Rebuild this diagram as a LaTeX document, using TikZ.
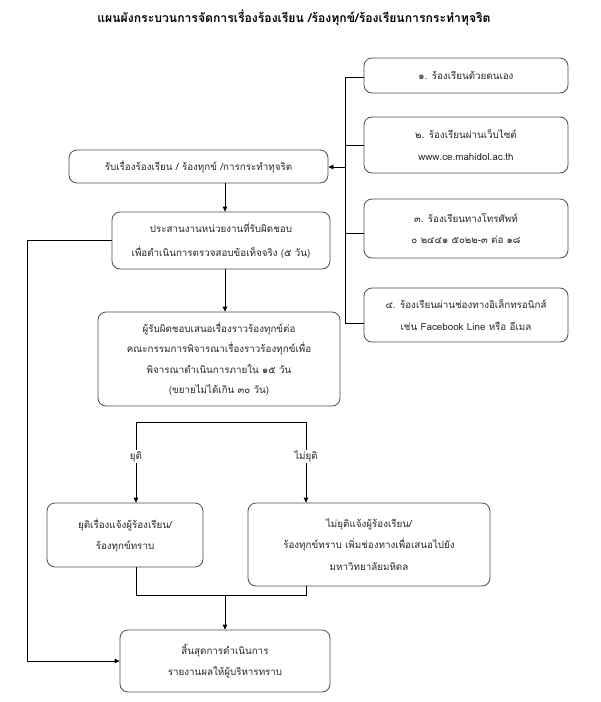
\documentclass[tikz,border=0pt]{standalone}
\usepackage{fontspec}
\usetikzlibrary{arrows.meta,calc}
\newfontfamily\thai[Script=Thai]{Loma}
\begin{document}
\begin{tikzpicture}[x=1pt,y=-1pt,
  box/.style={draw=black!70,line width=0.8pt,rounded corners=8pt,align=center,
    inner sep=0pt,text=black!85,font=\thai\fontsize{9.8}{21.5}\selectfont},
  conn/.style={draw=black,line width=0.8pt},
  arr/.style={conn,-{Triangle[length=5pt,width=4.5pt]}},
  lbl/.style={fill=white,inner sep=1pt,text=black!85,font=\thai\fontsize{9.8}{12}\selectfont}]
\useasboundingbox (0,0) rectangle (601,702);
\node[font=\thai\bfseries\fontsize{12.2}{14}\selectfont] (title) at (294,18) {แผนผังกระบวนการจัดการเรื่องร้องเรียน /ร้องทุกข์/ร้องเรียนการกระทำทุจริต};
% main column
\node[box,minimum width=259pt,minimum height=33pt] (A) at (198.5,166.5) {รับเรื่องร้องเรียน / ร้องทุกข์ /การกระทำทุจริต};
\node[box,minimum width=218pt,minimum height=57pt,font=\thai\fontsize{9.8}{24}\selectfont] (B) at (221,240.5) {ประสานงานหน่วยงานที่รับผิดชอบ\\เพื่อดำเนินการตรวจสอบข้อเท็จจริง (๕ วัน)};
\node[box,minimum width=242pt,minimum height=94pt,font=\thai\fontsize{9.8}{20.5}\selectfont] (C) at (219,359) {ผู้รับผิดชอบเสนอเรื่องราวร้องทุกข์ต่อ\\คณะกรรมการพิจารณาเรื่องราวร้องทุกข์เพื่อ\\พิจารณาดำเนินการภายใน ๑๕ วัน\\(ขยายไม่ได้เกิน ๓๐ วัน)};
\node[box,minimum width=156pt,minimum height=64pt] (D) at (125,535) {ยุติเรื่องแจ้งผู้ร้องเรียน/\\ร้องทุกข์ทราบ};
\node[box,minimum width=242pt,minimum height=83pt] (E) at (369,544.5) {ไม่ยุติแจ้งผู้ร้องเรียน/\\ร้องทุกข์ทราบ เพิ่มช่องทางเพื่อเสนอไปยัง\\มหาวิทยาลัยมหิดล};
\node[box,minimum width=210pt,minimum height=62pt] (F) at (225,661) {สิ้นสุดการดำเนินการ\\รายงานผลให้ผู้บริหารทราบ};
% right column
\node[box,minimum width=204pt,minimum height=35pt] (R1) at (466,75.5) {๑. ร้องเรียนด้วยตนเอง};
\node[box,minimum width=204pt,minimum height=56pt] (R2) at (466,145) {๒. ร้องเรียนผ่านเว็บไซต์\\www.ce.mahidol.ac.th};
\node[box,minimum width=204pt,minimum height=59pt] (R3) at (466,228.5) {๓. ร้องเรียนทางโทรศัพท์\\๐ ๒๔๔๑ ๕๐๒๒-๓ ต่อ ๑๘};
\node[box,minimum width=204pt,minimum height=54pt] (R4) at (466,315) {๔. ร้องเรียนผ่านช่องทางอิเล็กทรอนิกส์\\เช่น Facebook Line หรือ อีเมล};
% helper coordinates
\coordinate (vx) at (345,0);
\coordinate (mx) at (225,0);
\coordinate (lx) at (27,0);
\coordinate (dx) at (136,0);
\coordinate (ex) at (306,0);
\coordinate (by) at (0,422);
\coordinate (my) at (0,595);
\coordinate (s1) at ($(R1.west)+(0,1.5)$);
\coordinate (s3) at ($(R3.west)+(0,4.5)$);
\coordinate (s4) at ($(R4.west)+(0,8)$);
\coordinate (ay) at (0,167);
% right connectors
\draw[conn] (s1) -- (s1 -| vx) -- (s4 -| vx) -- (s4);
\draw[conn] (R2.west) -- (R2.west -| vx);
\draw[conn] (s3) -- (s3 -| vx);
\draw[arr] (ay -| vx) -- (ay -| A.east);
% main flow
\draw[arr] (A.south -| mx) -- (B.north -| mx);
\draw[arr] (B.south -| mx) -- (C.north -| mx);
% branch
\draw[conn] (by -| dx) -- (by -| ex);
\draw[arr] (by -| dx) -- node[lbl,pos=0.43] {ยุติ} (D.north -| dx);
\draw[arr] (by -| ex) -- node[lbl,pos=0.43] {ไม่ยุติ} (E.north -| ex);
% merge
\draw[conn] (D.south -| dx) -- (my -| dx) -- (my -| ex) -- (E.south -| ex);
\draw[arr] (my -| mx) -- (F.north -| mx);
% feedback
\draw[arr] (B.west) -- (B.west -| lx) -- (F.west -| lx) -- (F.west);
\end{tikzpicture}
\end{document}
